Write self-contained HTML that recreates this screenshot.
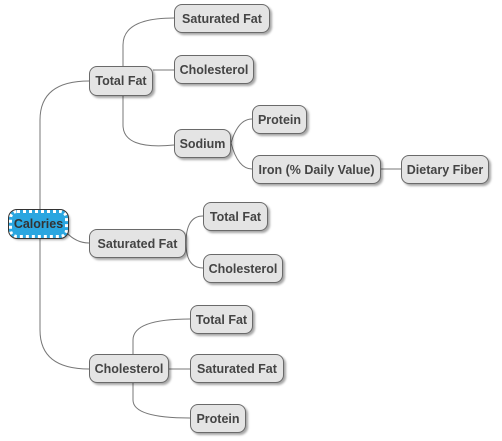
<!DOCTYPE html>
<html><head><style>
body{margin:0;width:502px;height:441px;background:#fff;position:relative;overflow:hidden;font-family:"Liberation Sans",sans-serif}
.n{position:absolute;box-sizing:border-box;background:#e4e4e4;border:1px solid #6a6a6a;border-radius:8px;font-weight:bold;font-size:12.5px;color:#444;display:flex;align-items:center;justify-content:center;box-shadow:2px 2px 2px rgba(0,0,0,.35)}
svg{position:absolute;left:0;top:0}
</style></head><body>
<svg width="502" height="441"><g fill="none" stroke="#777" stroke-width="1">
<path d="M40,212 L40,120 Q40,81 89,81"/>
<path d="M40,236 L40,330 Q40,369 89,369"/>
<path d="M66,232 Q76,243 89,243"/>
<path d="M123,66 L123,45 Q123,18 174,18"/>
<path d="M153,70 L174,70"/>
<path d="M123,96 L123,125 Q123,150 174,145"/>
<path d="M231,143 Q238,119 252,119"/>
<path d="M231,143 Q238,169 252,169"/>
<path d="M381,169 L401,169"/>
<path d="M186,243 Q186,216 203,216"/>
<path d="M186,243 Q186,268 203,268"/>
<path d="M133,354 L133,340 Q133,319 190,319"/>
<path d="M169,369 L190,369"/>
<path d="M133,383 L133,400 Q133,418 190,418"/>
</g></svg>
<div class="n" style="left:9px;top:210px;width:59px;height:28px;background:#2aa6e0;border:3px dotted #fff;outline:1px solid #333;color:#333">Calories</div>
<div class="n" style="left:89px;top:66px;width:64px;height:30px">Total Fat</div>
<div class="n" style="left:174px;top:4px;width:96px;height:29px">Saturated Fat</div>
<div class="n" style="left:174px;top:55px;width:80px;height:29px">Cholesterol</div>
<div class="n" style="left:174px;top:129px;width:57px;height:29px">Sodium</div>
<div class="n" style="left:252px;top:105px;width:55px;height:29px">Protein</div>
<div class="n" style="left:252px;top:155px;width:129px;height:29px">Iron (% Daily Value)</div>
<div class="n" style="left:401px;top:155px;width:88px;height:29px">Dietary Fiber</div>
<div class="n" style="left:89px;top:229px;width:97px;height:29px">Saturated Fat</div>
<div class="n" style="left:203px;top:202px;width:65px;height:29px">Total Fat</div>
<div class="n" style="left:203px;top:254px;width:80px;height:29px">Cholesterol</div>
<div class="n" style="left:89px;top:354px;width:80px;height:29px">Cholesterol</div>
<div class="n" style="left:190px;top:305px;width:63px;height:29px">Total Fat</div>
<div class="n" style="left:190px;top:354px;width:94px;height:29px">Saturated Fat</div>
<div class="n" style="left:190px;top:404px;width:56px;height:29px">Protein</div>
</body></html>
